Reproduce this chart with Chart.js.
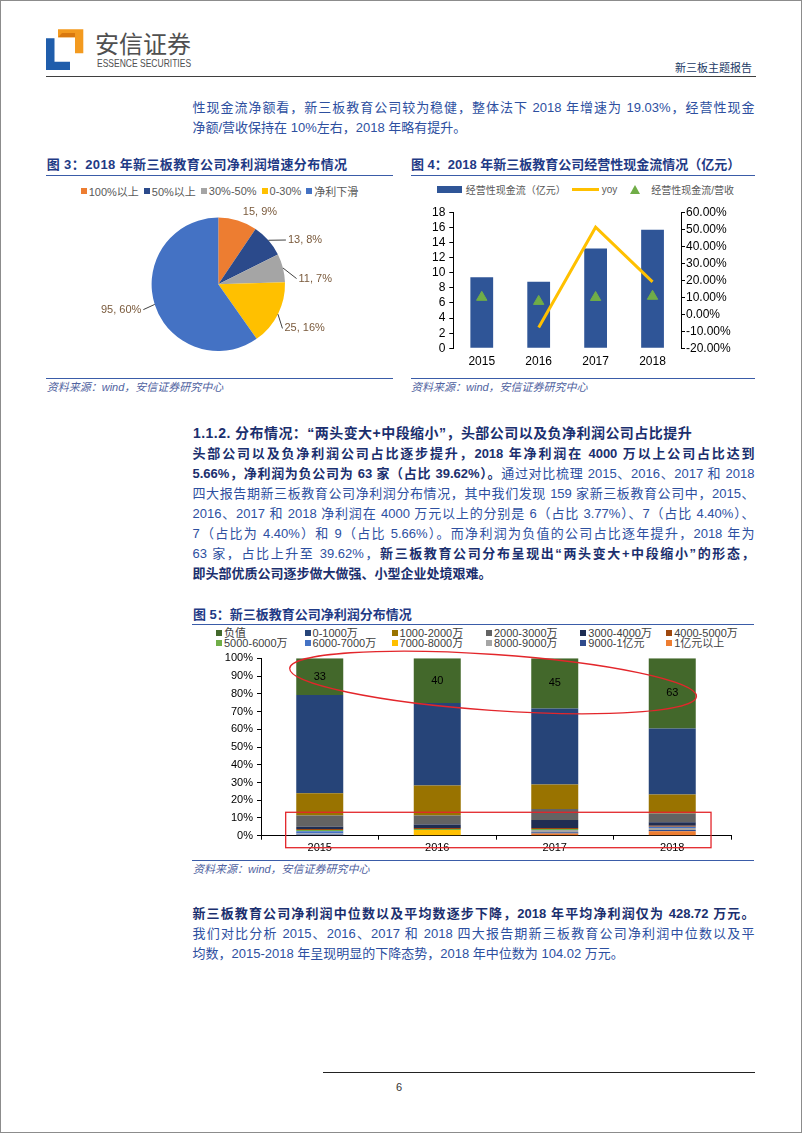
<!DOCTYPE html>
<html lang="zh-CN">
<head>
<meta charset="utf-8">
<title>新三板主题报告</title>
<script src="https://cdn.jsdelivr.net/npm/chart.js@4.4.1/dist/chart.umd.min.js"></script>
<style>
  html, body { margin: 0; padding: 0; background: #fff; }
  body { width: 802px; height: 1133px; position: relative; overflow: hidden;
         font-family: "Liberation Sans", "Noto Sans CJK SC", sans-serif; }
  .frame { position: absolute; left: 0; top: 0; width: 800px; height: 1131px; border: 1px solid #8c8c8c; }
  .abs { position: absolute; }
  .txt { font-size: 13px; line-height: 20px; color: #2d4f9f; }
  .ln { width: 562px; text-align: justify; text-align-last: justify; white-space: nowrap; }
  .ln.last { text-align-last: left; }
  .txt b { color: #1b2f6e; }
  .title { font-size: 13px; font-weight: bold; color: #1f3a85; line-height: 20px; white-space: nowrap; }
  .rule { position: absolute; height: 0; border-top: 1.5px solid #3a5ca8; }
  .src { font-size: 11px; font-style: italic; color: #4f62a0; line-height: 16px; white-space: nowrap; }
  .legend { position: absolute; display: flex; align-items: center; white-space: nowrap; color: #595959; }
  .legend .item { display: flex; align-items: center; }
  .sq { display: inline-block; width: 6px; height: 6px; margin-right: 2px; }
  .grid5 { position: absolute; display: grid; grid-template-columns: 88.6px 87px 94.3px 94.4px 85.9px 90px;
           font-size: 11px; line-height: 10px; color: #404040; white-space: nowrap; }
  .grid5 .item { display: flex; align-items: center; }
</style>
</head>
<body>
<div class="frame"></div>

<!-- 页眉 -->
<svg class="abs" style="left:44px;top:27px" width="42" height="46" viewBox="44 27 42 46">
  <polygon points="58,29.3 83.3,29.3 83.3,53.3 75,53.3 75,37.3 58,37.3" fill="#f39a1f"/>
  <polygon points="58,37.3 62,33 75,33 75,37.3" fill="#d9780f"/>
  <polygon points="46,38.3 54.5,38.3 54.5,61.7 70,61.7 70,70 46,70" fill="#1f5dab"/>
</svg>
<div class="abs" style="left:95px;top:29px;font-size:24px;line-height:28px;color:#505050;font-family:'Noto Sans CJK SC';">安信证券</div>
<div class="abs" style="left:96.5px;top:57px;font-size:10.5px;line-height:12px;color:#505050;transform:scaleX(0.81);transform-origin:0 0;white-space:nowrap;">ESSENCE SECURITIES</div>
<div class="abs" style="right:50px;top:60px;font-size:11px;line-height:16px;color:#203864;">新三板主题报告</div>
<div class="abs" style="left:46px;top:76px;width:710px;border-top:1.5px solid #3f3f3f;"></div>

<div class="abs txt" style="left:192.5px;top:98.3px;">
  <div class="ln">性现金流净额看，新三板教育公司较为稳健，整体法下 2018 年增速为 19.03%，经营性现金</div>
  <div class="ln last">净额/营收保持在 10%左右，2018 年略有提升。</div>
</div>

<!-- 图3 -->
<div class="abs title" style="left:46.7px;top:155px;letter-spacing:0.4px;">图 3：2018 年新三板教育公司净利润增速分布情况</div>
<div class="rule" style="left:46px;top:174.5px;width:347px;"></div>
<div id="pieLegend" class="legend" style="left:80.7px;top:183.7px;height:14px;font-size:11px;"></div>
<div class="abs" style="left:95px;top:200px;width:250px;height:170px;"><canvas id="pieChart"></canvas></div>
<div class="rule" style="left:46px;top:377.5px;width:347px;"></div>
<div class="abs src" style="left:46.7px;top:378.7px;">资料来源：wind，安信证券研究中心</div>

<!-- 图4 -->
<div class="abs title" style="left:411px;top:155px;">图 4：2018 年新三板教育公司经营性现金流情况（亿元）</div>
<div class="rule" style="left:411px;top:174.5px;width:344px;"></div>
<div id="cashLegend" class="legend" style="left:436.7px;top:182px;height:14px;font-size:10px;"></div>
<div class="abs" style="left:405px;top:200px;width:355px;height:175px;"><canvas id="cashChart"></canvas></div>
<div class="rule" style="left:411px;top:377.5px;width:344px;"></div>
<div class="abs src" style="left:411px;top:378.7px;">资料来源：wind，安信证券研究中心</div>

<!-- 1.1.2 -->
<div class="abs txt" style="left:193px;top:423.3px;font-size:14px;letter-spacing:0.45px;"><b style="white-space:nowrap;">1.1.2. 分布情况：“两头变大+中段缩小”，头部公司以及负净利润公司占比提升</b></div>
<div class="abs txt" style="left:192.5px;top:443.5px;">
  <div class="ln"><b>头部公司以及负净利润公司占比逐步提升，2018 年净利润在 4000 万以上公司占比达到</b></div>
  <div class="ln"><b>5.66%，净利润为负公司为 63 家（占比 39.62%）。</b>通过对比梳理 2015、2016、2017 和 2018</div>
  <div class="ln">四大报告期新三板教育公司净利润分布情况，其中我们发现 159 家新三板教育公司中，2015、</div>
  <div class="ln">2016、2017 和 2018 净利润在 4000 万元以上的分别是 6（占比 3.77%）、7（占比 4.40%）、</div>
  <div class="ln">7（占比为 4.40%）和 9（占比 5.66%）。而净利润为负值的公司占比逐年提升，2018 年为</div>
  <div class="ln">63 家，占比上升至 39.62%，<b>新三板教育公司分布呈现出“两头变大+中段缩小”的形态，</b></div>
  <div class="ln last"><b>即头部优质公司逐步做大做强、小型企业处境艰难。</b></div>
</div>

<!-- 图5 -->
<div class="abs title" style="left:193px;top:605px;">图 5：新三板教育公司净利润分布情况</div>
<div class="rule" style="left:192px;top:623.5px;width:562px;"></div>
<div id="bandLegend" class="grid5" style="left:216px;top:628.3px;row-gap:0px;"></div>
<div class="abs" style="left:190px;top:645px;width:560px;height:212px;"><canvas id="bandChart"></canvas></div>
<div class="rule" style="left:192px;top:860px;width:562px;"></div>
<div class="abs src" style="left:193px;top:861.3px;">资料来源：wind，安信证券研究中心</div>

<div class="abs txt" style="left:192.5px;top:904.3px;">
  <div class="ln"><b>新三板教育公司净利润中位数以及平均数逐步下降，2018 年平均净利润仅为 428.72 万元。</b></div>
  <div class="ln">我们对比分析 2015、2016、2017 和 2018 四大报告期新三板教育公司净利润中位数以及平</div>
  <div class="ln last">均数，2015-2018 年呈现明显的下降态势，2018 年中位数为 104.02 万元。</div>
</div>

<!-- 页脚 -->
<div class="abs" style="left:323.3px;top:1072px;width:431.7px;border-top:1px solid #222;"></div>
<div class="abs" style="left:396px;top:1079px;font-size:11px;line-height:16px;color:#333;">6</div>

<script>
Chart.defaults.font.family = '"Liberation Sans", "Noto Sans CJK SC", sans-serif';
Chart.defaults.color = "#000";
Chart.defaults.animation = false;

// 图3 数据
const pieLabels = ["100%以上", "50%以上", "30%-50%", "0-30%", "净利下滑"];
const pieCounts = [15, 13, 11, 25, 95];
const pieColors = ["#ed7d31", "#2b4a8b", "#a5a5a5", "#ffc000", "#4472c4"];

// 图4 数据
const cashYears = ["2015", "2016", "2017", "2018"];
const cashFlow = [9.4, 8.8, 13.2, 15.7];          // 经营性现金流（亿元）
const cashYoy = [null, -7.8, 51.2, 19.03];        // yoy %
const cashRatio = [10.0, 7.6, 9.9, 10.6];         // 经营性现金流/营收 %
const cashYTicks = [0, 18, 2];
const cashY1Ticks = [-20, 60, 10];

// 图5 数据（家数，顺序同图例）
const profitYears = ["2015", "2016", "2017", "2018"];
const bandLabels = ["负值", "0-1000万", "1000-2000万", "2000-3000万", "3000-4000万", "4000-5000万",
                    "5000-6000万", "6000-7000万", "7000-8000万", "8000-9000万", "9000-1亿元", "1亿元以上"];
const bandNeg = [33, 40, 45, 63];
const band0 = [88, 74, 68, 59];
const band1k = [20, 27, 22, 17];
const band2k = [10, 8, 10, 8];
const band3k = [2, 3, 7, 3];
const band4k = [1, 1, 1, 1];
const band5k = [1, 1, 1, 0];
const band6k = [2, 0, 0, 1];
const band7k = [0, 5, 0, 0];
const band8k = [1, 0, 2, 2];
const band9k = [1, 0, 1, 1];
const band1y = [0, 0, 2, 4];
const bandColors = ["#43682b", "#264478", "#997300", "#636363", "#1f2d52", "#9e480e",
                    "#70ad47", "#4472c4", "#ffc000", "#a5a5a5", "#2f4b8c", "#ed7d31"];

// ---------- 图3 饼图 ----------
const pieLegend = document.getElementById("pieLegend");
pieLabels.forEach((name, i) => {
    pieLegend.insertAdjacentHTML("beforeend",
        `<span class="item" style="margin-right:5px"><span class="sq" style="background:${pieColors[i]}"></span>${name}</span>`);
});

const pieTotal = pieCounts.reduce((a, b) => a + b, 0);
const pieNudge = [[1, 5], [9, 9], [2, 14], [-6, 8], [0, 1]];
const pieLeader = [false, true, true, true, true];

const pieLabelPlugin = {
    id: "pieLabels",
    afterDatasetsDraw(chart) {
        const ctx = chart.ctx;
        const arcs = chart.getDatasetMeta(0).data;
        ctx.save();
        ctx.font = '11px "Liberation Sans", "Noto Sans CJK SC", sans-serif';
        ctx.fillStyle = "#7a5a3c";
        ctx.strokeStyle = "#404040";
        ctx.lineWidth = 1;
        ctx.textBaseline = "middle";
        arcs.forEach((arc, i) => {
            const mid = (arc.startAngle + arc.endAngle) / 2;
            const r = arc.outerRadius;
            const right = Math.cos(mid) >= 0;
            const lx = arc.x + Math.cos(mid) * (r + 14) + pieNudge[i][0];
            const ly = arc.y + Math.sin(mid) * (r + 14) + pieNudge[i][1];
            if (pieLeader[i]) {
                ctx.beginPath();
                ctx.moveTo(arc.x + Math.cos(mid) * r, arc.y + Math.sin(mid) * r);
                ctx.lineTo(right ? lx - 2 : lx + 2, ly);
                ctx.stroke();
            }
            ctx.textAlign = right ? "left" : "right";
            const v = pieCounts[i];
            ctx.fillText(v + ", " + Math.round(v / pieTotal * 100) + "%", lx, ly);
        });
        ctx.restore();
    }
};

new Chart(document.getElementById("pieChart"), {
    type: "pie",
    data: {
        labels: pieLabels,
        datasets: [{ data: pieCounts, backgroundColor: pieColors, borderWidth: 0 }]
    },
    options: {
        responsive: true,
        maintainAspectRatio: false,
        layout: { padding: { left: 56.6, right: 60, top: 17.6, bottom: 19 } },
        plugins: { legend: { display: false }, tooltip: { enabled: false } }
    },
    plugins: [pieLabelPlugin]
});

// ---------- 图4 组合图 ----------
const cashLegend = document.getElementById("cashLegend");
cashLegend.innerHTML =
    `<span class="item"><span style="display:inline-block;width:25px;height:7px;background:#2f5597;margin-right:4px"></span>经营性现金流（亿元）</span>` +
    `<span class="item" style="margin-left:6px"><span style="display:inline-block;width:27px;height:3px;background:#ffc000;margin-right:3px"></span>yoy</span>` +
    `<span class="item" style="margin-left:13px">` +
    `<span style="display:inline-block;width:0;height:0;border-left:5px solid transparent;border-right:5px solid transparent;border-bottom:9px solid #70ad47;margin-right:11px"></span>经营性现金流/营收</span>`;

new Chart(document.getElementById("cashChart"), {
    data: {
        labels: cashYears,
        datasets: [
            {
                type: "bar", label: "经营性现金流（亿元）", data: cashFlow, yAxisID: "y",
                backgroundColor: "#2f5597", barPercentage: 0.4, categoryPercentage: 1, order: 3
            },
            {
                type: "line", label: "yoy", data: cashYoy, yAxisID: "y1",
                borderColor: "#ffc000", borderWidth: 3, pointRadius: 0, tension: 0, order: 1
            },
            {
                type: "line", label: "经营性现金流/营收", data: cashRatio, yAxisID: "y1",
                showLine: false, pointStyle: "triangle", pointRadius: 6,
                backgroundColor: "#70ad47", borderColor: "#70ad47", order: 0
            }
        ]
    },
    options: {
        responsive: true,
        maintainAspectRatio: false,
        layout: { padding: { top: 12.3, left: 0, right: 0, bottom: 0 } },
        plugins: { legend: { display: false }, tooltip: { enabled: false } },
        scales: {
            x: {
                grid: { display: false, drawTicks: false },
                border: { display: false },
                ticks: { padding: 6, font: { size: 12 }, color: "#000" },
                afterFit: s => { s.height = 26.7; }
            },
            y: {
                position: "left", min: cashYTicks[0], max: cashYTicks[1],
                ticks: { stepSize: cashYTicks[2], autoSkip: false, padding: 4, font: { size: 12 }, color: "#000" },
                grid: { drawOnChartArea: false, tickLength: 4, color: "#000" },
                border: { color: "#000" },
                afterFit: s => { s.width = 48.3; }
            },
            y1: {
                position: "right", min: cashY1Ticks[0], max: cashY1Ticks[1],
                ticks: { stepSize: cashY1Ticks[2], autoSkip: false, padding: 1, font: { size: 12 }, color: "#000",
                         callback: v => v.toFixed(2) + "%" },
                grid: { drawOnChartArea: false, tickLength: 4, color: "#000" },
                border: { color: "#000" },
                afterFit: s => { s.width = 79; }
            }
        }
    }
});

// ---------- 图5 百分比堆积柱 ----------
const bandSeries = [bandNeg, band0, band1k, band2k, band3k, band4k, band5k, band6k, band7k, band8k, band9k, band1y];
const bandLegend = document.getElementById("bandLegend");
bandLabels.forEach((name, i) => {
    bandLegend.insertAdjacentHTML("beforeend",
        `<span class="item"><span class="sq" style="background:${bandColors[i]}"></span>${name}</span>`);
});

const yearTotals = profitYears.map((_, i) => bandSeries.reduce((s, arr) => s + arr[i], 0));
// 图表从下往上堆叠，所以倒序放入
const bandDatasets = bandSeries.map((arr, k) => ({
    label: bandLabels[k],
    data: arr.map((v, i) => v / yearTotals[i] * 100),
    counts: arr,
    backgroundColor: bandColors[k],
    barPercentage: 0.4,
    categoryPercentage: 1
})).reverse();

const negLabelPlugin = {
    id: "negLabels",
    afterDatasetsDraw(chart) {
        const ctx = chart.ctx;
        chart.data.datasets.forEach((ds, di) => {
            if (ds.label !== "负值") return;
            ctx.save();
            ctx.font = '11px "Liberation Sans", sans-serif';
            ctx.fillStyle = "#000";
            ctx.textAlign = "center";
            ctx.textBaseline = "middle";
            chart.getDatasetMeta(di).data.forEach((el, i) => {
                ctx.fillText(String(ds.counts[i]), el.x, (el.y + el.base) / 2);
            });
            ctx.restore();
        });
    }
};

// 红色圈注（椭圆 + 方框）
const redMarkPlugin = {
    id: "redMarks",
    afterDraw(chart) {
        const { ctx, scales: { x, y } } = chart;
        const x0 = x.getPixelForValue(0), x3 = x.getPixelForValue(3);
        const cw = x.getPixelForValue(1) - x0;
        ctx.save();
        ctx.strokeStyle = "#e3262b";
        ctx.lineWidth = 1.3;
        const l = x0 - 0.26 * cw, r = x3 + 0.21 * cw;
        ctx.beginPath();
        ctx.ellipse((l + r) / 2, y.getPixelForValue(86.4), (r - l) / 2, 28, 0.069, 0, Math.PI * 2);
        ctx.stroke();
        const bl = x0 - 0.29 * cw, br = x3 + 0.33 * cw;
        const bt = y.getPixelForValue(13.2);
        ctx.strokeRect(bl, bt, br - bl, y.bottom + 12 - bt);
        ctx.restore();
    }
};

new Chart(document.getElementById("bandChart"), {
    type: "bar",
    data: { labels: profitYears, datasets: bandDatasets },
    options: {
        responsive: true,
        maintainAspectRatio: false,
        layout: { padding: { top: 13.3, right: 19, left: 0, bottom: 0 } },
        plugins: { legend: { display: false }, tooltip: { enabled: false } },
        scales: {
            x: {
                stacked: true,
                grid: { drawOnChartArea: false, offset: true, tickLength: 4, color: "#000" },
                border: { color: "#000" },
                ticks: { padding: 2, font: { size: 11 }, color: "#000" },
                afterFit: s => { s.height = 21.3; }
            },
            y: {
                stacked: true, min: 0, max: 100,
                ticks: { stepSize: 10, autoSkip: false, padding: 4, font: { size: 11 }, color: "#000", callback: v => v + "%" },
                grid: { drawOnChartArea: false, tickLength: 4, color: "#000" },
                border: { color: "#000" },
                afterFit: s => { s.width = 71; }
            }
        }
    },
    plugins: [negLabelPlugin, redMarkPlugin]
});
</script>
</body>
</html>
